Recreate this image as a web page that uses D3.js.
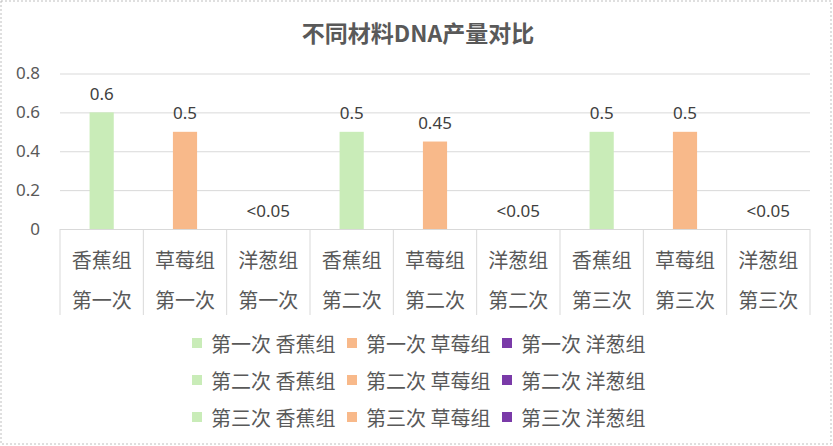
<!DOCTYPE html>
<html>
<head>
<meta charset="utf-8">
<script src="https://cdn.jsdelivr.net/npm/d3@7/dist/d3.min.js"></script>
<style>
	body { margin: 0; background: #fff; }
	svg { display: block; font-family: "Noto Sans CJK SC", "Noto Sans", sans-serif; }
</style>
</head>
<body>
<svg id="chart" width="833" height="446"></svg>
<script>
	//Data------------------------------------------------------------------
	var rounds = ['第一次', '第二次', '第三次'];
	var groups = ['香蕉组', '草莓组', '洋葱组'];
	var values = [0.6, 0.5, 0, 0.5, 0.45, 0, 0.5, 0.5, 0];
	var valueLabels = ['0.6', '0.5', '<0.05', '0.5', '0.45', '<0.05', '0.5', '0.5', '<0.05'];
	var yTicks = [0, 0.2, 0.4, 0.6, 0.8];
	var groupColors = ['#c9ecb8', '#f8b98a', '#7a3aa8'];

	//Build categories: round x group
	var cats = [];
	rounds.forEach(function (r, ri) {
		groups.forEach(function (g, gi) {
			cats.push({ round: r, group: g, gi: gi, value: values[ri * 3 + gi], label: valueLabels[ri * 3 + gi] });
		});
	});

	var svg = d3.select('#chart');

	//outer border
	svg.append('rect')
		.attr('x', 1).attr('y', 1)
		.attr('width', 830).attr('height', 443)
		.attr('fill', 'none')
		.attr('stroke', '#bfbfbf')
		.attr('stroke-dasharray', '2,2');

	//title
	svg.append('text')
		.attr('x', 418).attr('y', 32)
		.attr('text-anchor', 'middle')
		.attr('dominant-baseline', 'central')
		.style('font-size', '23px')
		.style('font-weight', 'bold')
		.style('fill', '#595959')
		.text('不同材料DNA产量对比');

	//Scales
	var x = d3.scaleBand()
		.domain(d3.range(cats.length))
		.range([60, 810]);
	var y = d3.scaleLinear()
		.domain([0, 0.8])
		.range([229, 73.5]);

	//gridlines + y tick labels
	var yAxis = svg.append('g')
		.attr('transform', 'translate(60,0)')
		.call(d3.axisLeft(y).tickValues(yTicks)
			.tickSize(-750)
			.tickPadding(20)
			.tickFormat(function (d) { return d === 0 ? '0' : d3.format('.1f')(d); }));
	yAxis.select('.domain').remove();
	yAxis.selectAll('line').attr('stroke', '#d9d9d9');
	yAxis.selectAll('text')
		.style('font-size', '17px')
		.style('fill', '#595959')
		.style('font-family', '"Noto Sans", sans-serif');

	//bars
	var barW = x.bandwidth() * 0.29;
	svg.append('g').selectAll('rect')
		.data(cats)
		.enter()
		.append('rect')
		.attr('x', function (d, i) { return x(i) + (x.bandwidth() - barW) / 2; })
		.attr('y', function (d) { return y(d.value); })
		.attr('width', barW)
		.attr('height', function (d) { return y(0) - y(d.value); })
		.attr('fill', function (d) { return groupColors[d.gi]; });

	//data labels
	svg.append('g').selectAll('text')
		.data(cats)
		.enter()
		.append('text')
		.attr('x', function (d, i) { return x(i) + x.bandwidth() / 2; })
		.attr('y', function (d) { return y(d.value) - 19; })
		.attr('text-anchor', 'middle')
		.attr('dominant-baseline', 'central')
		.style('font-family', '"Noto Sans", sans-serif')
		.style('font-size', '17px')
		.style('fill', '#404040')
		.text(function (d) { return d.label; });

	//category axis: separators and two-line labels
	var catAxis = svg.append('g');
	var edges = d3.range(cats.length + 1).map(function (i) {
		return i < cats.length ? x(i) : x(cats.length - 1) + x.bandwidth();
	});
	catAxis.selectAll('line')
		.data(edges)
		.enter()
		.append('line')
		.attr('x1', function (d) { return d; })
		.attr('x2', function (d) { return d; })
		.attr('y1', y(0))
		.attr('y2', 315)
		.attr('stroke', '#d9d9d9');
	var catText = catAxis.selectAll('g.cat')
		.data(cats)
		.enter()
		.append('g')
		.classed('cat', true)
		.attr('transform', function (d, i) { return 'translate(' + (x(i) + x.bandwidth() / 2) + ',0)'; });
	catText.append('text')
		.attr('y', 259)
		.text(function (d) { return d.group; });
	catText.append('text')
		.attr('y', 299)
		.text(function (d) { return d.round; });
	catText.selectAll('text')
		.attr('text-anchor', 'middle')
		.attr('dominant-baseline', 'central')
		.style('font-size', '20px')
		.style('fill', '#595959');

	//legend
	var legX = [192, 347, 502];
	var legY = [343, 380, 417];
	var legend = svg.append('g').selectAll('g')
		.data(cats)
		.enter()
		.append('g')
		.attr('transform', function (d, i) {
			return 'translate(' + legX[i % 3] + ',' + legY[Math.floor(i / 3)] + ')';
		});
	legend.append('rect')
		.attr('x', 0).attr('y', -5)
		.attr('width', 10).attr('height', 10)
		.attr('fill', function (d) { return groupColors[d.gi]; });
	legend.append('text')
		.attr('x', 19)
		.attr('dominant-baseline', 'central')
		.style('font-size', '20px')
		.style('fill', '#595959')
		.text(function (d) { return d.round + ' ' + d.group; });
</script>
</body>
</html>
